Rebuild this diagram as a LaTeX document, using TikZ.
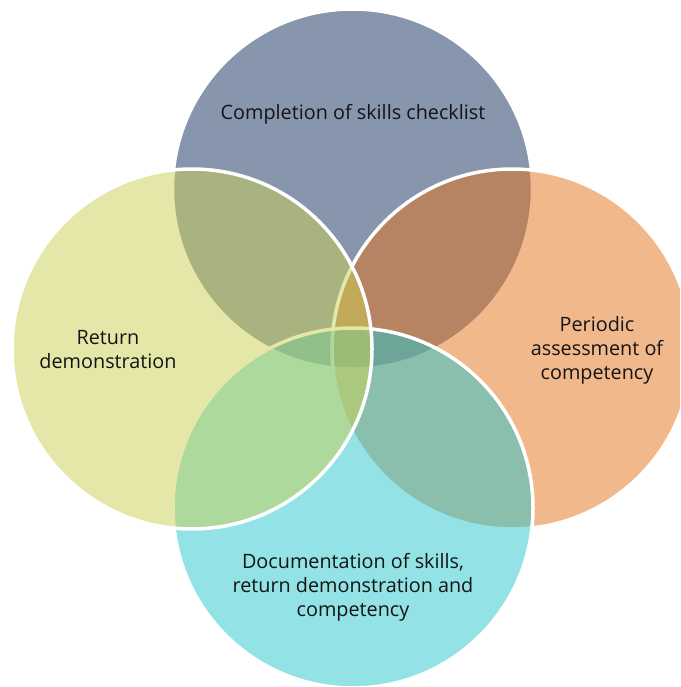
\documentclass[tikz,border=0pt]{standalone}
\usepackage{fontspec}
\setmainfont{Open Sans}
\definecolor{topc}{RGB}{17,45,93}
\definecolor{rightc}{RGB}{229,115,27}
\definecolor{bottomc}{RGB}{39,199,207}
\definecolor{leftc}{RGB}{203,209,83}
\definecolor{txt}{RGB}{20,20,20}
\begin{document}
\begin{tikzpicture}[x=1pt,y=-1pt,
  venn/.style={circle, draw=white, line width=3.5pt, fill opacity=0.5, minimum size=360pt, inner sep=0pt, outer sep=0pt},
  lbl/.style={align=center, font=\fontsize{19.8}{24}\selectfont, text=txt, inner sep=0pt}]
\useasboundingbox (0,0) rectangle (680,687);
\clip (0,0) rectangle (680,687);
\fill[white] (0,0) rectangle (680,687);
\node[venn, fill=topc] (ctop) at (352.5,189) {};
\node[venn, fill=rightc] (cright) at (512,349) {};
\node[venn, fill=bottomc] (cbottom) at (353,508) {};
\node[venn, fill=leftc] (cleft) at (192,349) {};
\node[lbl] (ltop) at (353,114.5) {Completion of skills checklist};
\node[lbl] (lleft) at (108,350) {Return\\demonstration};
\node[lbl] (lright) at (597,350.5) {Periodic\\assessment of\\competency};
\node[lbl] (lbottom) at (353,587) {Documentation of skills,\\return demonstration and\\competency};
\end{tikzpicture}
\end{document}
